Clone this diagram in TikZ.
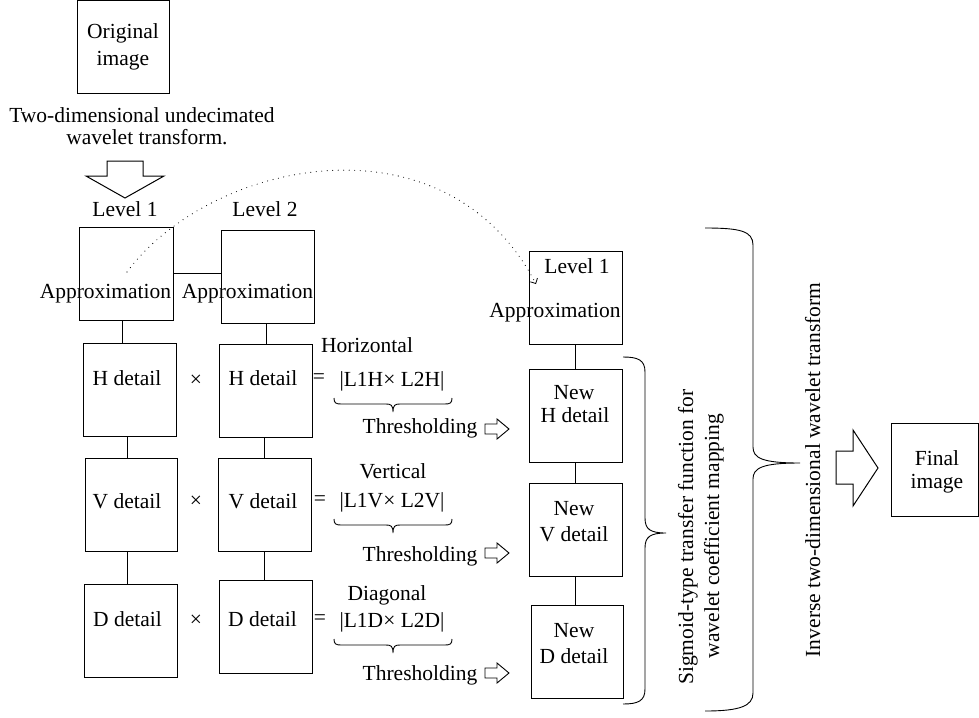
\documentclass[tikz,border=0pt]{standalone}
\usepackage{fontspec}
\setmainfont{Liberation Serif}
\usetikzlibrary{arrows.meta}
\begin{document}
\begin{tikzpicture}[x=1pt,y=-1pt,
  box/.style={draw, line width=1pt, inner sep=0pt, minimum width=93pt, minimum height=93pt},
  lbl/.style={anchor=base, inner sep=0pt, font=\fontsize{21.5}{25}\selectfont},
  sym/.style={anchor=center, inner sep=0pt, font=\fontsize{21.5}{25}\selectfont},
  conn/.style={line width=1pt},
  brc/.style={line width=0.9pt},
  blk/.style={line width=1pt, line join=miter}]
\useasboundingbox (0,0) rectangle (979,717);

% boxes
\node[box, minimum width=92pt, minimum height=92pt] (orig) at (123,47) {};
\node[box, minimum width=94pt] (a1) at (126,273.5) {};
\node[box] (a2) at (267.5,276.5) {};
\node[box] (h1) at (129.5,389.5) {};
\node[box] (h2) at (265.5,390.5) {};
\node[box, minimum width=92pt] (v1) at (131,504.5) {};
\node[box] (v2) at (264.5,504.5) {};
\node[box] (d1) at (130.5,630.5) {};
\node[box] (d2) at (265.5,626.5) {};
\node[box] (ra) at (575.5,297.5) {};
\node[box] (nh) at (575.5,415.5) {};
\node[box] (nv) at (575.5,529.5) {};
\node[box, minimum width=92pt] (nd) at (577,651.5) {};
\node[box, minimum width=87pt] (fin) at (934.5,469.5) {};

% connectors
\draw[conn] (a1.east) -- (a1.east -| a2.west);
\draw[conn] ([xshift=-4pt]a1.south) -- ([xshift=-4pt]a1.south |- h1.north);
\draw[conn] ([xshift=-2.5pt]h1.south) -- ([xshift=-2.5pt]h1.south |- v1.north);
\draw[conn] ([xshift=-4pt]v1.south) -- ([xshift=-4pt]v1.south |- d1.north);
\draw[conn] ([xshift=-1.5pt]a2.south) -- ([xshift=-1.5pt]a2.south |- h2.north);
\draw[conn] ([xshift=-1.5pt]h2.south) -- ([xshift=-1.5pt]h2.south |- v2.north);
\draw[conn] (v2.south) -- (v2.south |- d2.north);
\draw[conn] (ra.south) -- (ra.south |- nh.north);
\draw[conn] (nh.south) -- (nh.south |- nv.north);
\draw[conn] (nv.south) -- (nv.south |- nd.north);

% texts
\node[lbl] (t1) at (123,39) {Original};
\node[lbl] (t2) at (123,65) {image};
\node[lbl] (t3) at (142,122) {Two-dimensional undecimated};
\node[lbl] (t4) at (147,144) {wavelet transform.};
\node[lbl] (t5) at (125,216) {Level 1};
\node[lbl] (t6) at (265,216) {Level 2};
\node[lbl] (t7) at (105.5,298) {Approximation};
\node[lbl] (t8) at (247.5,298) {Approximation};
\node[lbl] (t9) at (127,385) {H detail};
\node[lbl] (t10) at (263,385) {H detail};
\node[lbl] (t11) at (127,508) {V detail};
\node[lbl] (t12) at (263,508) {V detail};
\node[lbl] (t13) at (127.5,626) {D detail};
\node[lbl] (t14) at (262.5,626) {D detail};
\node[sym] (x1) at (196,381) {×};
\node[sym] (x2) at (196,502) {×};
\node[sym] (x3) at (196,621) {×};
\node[sym] (e1) at (319,379) {=};
\node[sym] (e2) at (320,501) {=};
\node[sym] (e3) at (320,620) {=};
\node[lbl] (hz) at (367,352) {Horizontal};
\node[lbl] (f1) at (392,386) {|L1H× L2H|};
\node[lbl] (th1) at (420,433) {Thresholding};
\node[lbl] (vt) at (393,478) {Vertical};
\node[lbl] (f2) at (392,507) {|L1V× L2V|};
\node[lbl] (th2) at (420,561) {Thresholding};
\node[lbl] (dg) at (387,600) {Diagonal};
\node[lbl] (f3) at (392,627) {|L1D× L2D|};
\node[lbl] (th3) at (420,680) {Thresholding};
\node[lbl] (r1) at (577,273) {Level 1};
\node[lbl] (r2) at (555,317) {Approximation};
\node[lbl] (n1) at (574,399) {New};
\node[lbl] (n2) at (575,422) {H detail};
\node[lbl] (n3) at (574,515) {New};
\node[lbl] (n4) at (574,541) {V detail};
\node[lbl] (n5) at (574,637) {New};
\node[lbl] (n6) at (574,663) {D detail};
\node[lbl] (fn1) at (937,465) {Final};
\node[lbl] (fn2) at (937,488) {image};
\node[lbl, rotate=90] (sg1) at (693,537) {Sigmoid-type transfer function for};
\node[lbl, rotate=90] (sg2) at (719,536) {wavelet coefficient mapping};
\node[lbl, rotate=90] (inv) at (820,470) {Inverse two-dimensional wavelet transform};

% block arrows
\draw[blk] (107,161) -- (143,161) -- (143,176) -- (164,176) -- (125,198) -- (86,176) -- (107,176) -- cycle;
\draw[blk] (836,451) -- (853,451) -- (853,430) -- (878,468) -- (853,506) -- (853,484) -- (836,484) -- cycle;
\foreach \yy in {429,553,673}{
  \draw[line width=0.9pt, line join=miter] (485,\yy-5) -- (497,\yy-5) -- (497,\yy-10) -- (509,\yy) -- (497,\yy+10) -- (497,\yy+5) -- (485,\yy+5) -- cycle;
}

% small braces under formulas
\foreach \yy in {398,519,639}{
  \draw[brc, shift={(334,\yy)}] (0,0) .. controls (0,5) and (2,6) .. (7,6) -- (52,6) .. controls (57,6) and (59,7) .. (59,14) .. controls (59,7) and (61,6) .. (66,6) -- (111,6) .. controls (116,6) and (118,5) .. (118,0);
}

% middle brace
\draw[brc] (623,357) .. controls (638,357) and (645,360) .. (645,372) -- (645,518) .. controls (645,529) and (650,533) .. (666,533) .. controls (650,533) and (645,537) .. (645,548) -- (645,689) .. controls (645,701) and (638,704) .. (623,704);

% large brace
\draw[brc] (705,228) .. controls (740,228) and (753,231) .. (753,245) -- (753,447) .. controls (753,458) and (762,463) .. (800,463) .. controls (762,463) and (753,468) .. (753,479) -- (753,693) .. controls (753,706) and (740,711) .. (705,711);

% dotted arc
\coordinate (arcS) at (127,272);
\coordinate (arcE) at (536,284);
\draw[line width=1.1pt, dash pattern=on 0pt off 5.5pt, line cap=round, -{Straight Barb[length=4pt,width=8pt,line width=0.8pt]}] (arcS) .. controls (210,160) and (445,110) .. (arcE);
\end{tikzpicture}
\end{document}
